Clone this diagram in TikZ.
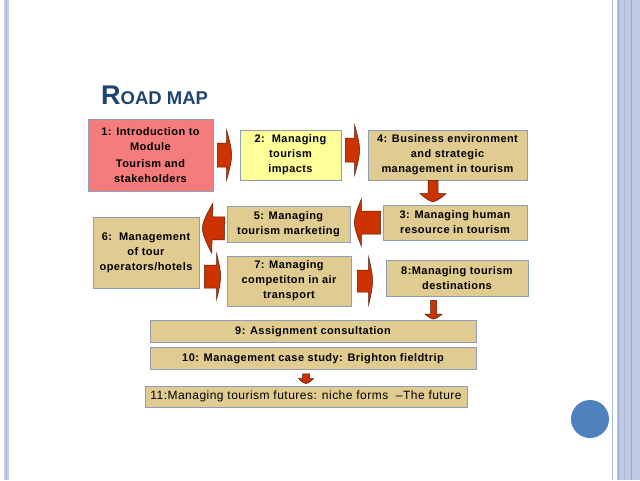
\documentclass[tikz,border=0pt]{standalone}
\usepackage{fontspec}
\setmainfont{Liberation Sans}
\newfontfamily\boxfont{Liberation Sans}[LetterSpace=4]
\usetikzlibrary{calc}
\definecolor{pinkfill}{HTML}{F47C7C}
\definecolor{yellowfill}{HTML}{FFFF99}
\definecolor{tanfill}{HTML}{E0CC90}
\definecolor{boxline}{HTML}{8E9EB8}
\definecolor{arrowred}{HTML}{CC3300}
\definecolor{arrowdark}{HTML}{5A1A00}
\definecolor{titleblue}{HTML}{1F4470}
\definecolor{framelight}{HTML}{C3CDE4}
\definecolor{framemid}{HTML}{A9B7D9}
\definecolor{framedark}{HTML}{93A5CF}
\definecolor{dotblue}{HTML}{4F81BD}
\begin{document}
\begin{tikzpicture}[x=1pt,y=-1pt,
  box/.style={draw=boxline, line width=0.7pt, align=center, inner sep=0pt, text=black,
    font=\boxfont\bfseries\fontsize{11}{15}\selectfont},
  blk/.style n args={3}{fill=arrowred, draw=arrowdark, line width=0.5pt, line join=miter,
    to path={let \p1=(\tikztostart), \p2=(\tikztotarget),
      \n1={atan2(\y2-\y1,\x2-\x1)}, \n2={veclen(\x2-\x1,\y2-\y1)} in
      ([shift={(\p1)},rotate=\n1]0,-#1)
      -- ([shift={(\p1)},rotate=\n1]\n2-#3,-#1)
      -- ([shift={(\p1)},rotate=\n1]\n2-#3,-#2)
      .. controls ([shift={(\p1)},rotate=\n1]\n2-0.3*#3,-0.5*#2) and ([shift={(\p1)},rotate=\n1]\n2,-0.2*#2) .. (\p2)
      .. controls ([shift={(\p1)},rotate=\n1]\n2,0.2*#2) and ([shift={(\p1)},rotate=\n1]\n2-0.3*#3,0.5*#2) .. ([shift={(\p1)},rotate=\n1]\n2-#3,#2)
      -- ([shift={(\p1)},rotate=\n1]\n2-#3,#1)
      -- ([shift={(\p1)},rotate=\n1]0,#1) -- cycle}}
]
\useasboundingbox (0,0) rectangle (640,480);
\fill[white] (0,0) rectangle (640,480);
% slide frame
\fill[framelight] (3.5,0) rectangle (8.5,480);
\draw[framemid, line width=1pt] (6,0) -- (6,480);
\draw[framemid, line width=1.5pt] (612.5,0) -- (612.5,480);
\fill[framelight!80!framemid] (617,0) rectangle (640,480);
\draw[framedark, line width=1.5pt] (618.5,0) -- (618.5,480);
\draw[framemid, line width=1pt] (624,0) -- (624,480);
\draw[framedark, line width=0.8pt] (631,0) -- (631,480);
\node[circle, fill=dotblue, minimum size=38pt, inner sep=0pt] (dot) at (590,419) {};
% title
\node[anchor=base west, inner sep=0pt, text=titleblue, font=\bfseries] (title) at (101,104)
  {{\fontsize{27}{27}\selectfont R}{\fontsize{18.5}{18.5}\selectfont OAD MAP}};
% boxes
\node[box, fill=pinkfill, minimum width=125pt, minimum height=72pt] (n1) at (150.5,155)
  {1: Introduction to\\Module\\[2pt]Tourism and\\stakeholders};
\node[box, fill=yellowfill, minimum width=101pt, minimum height=50pt] (n2) at (290.5,155)
  {2:\ \ Managing\\tourism\\impacts};
\node[box, fill=tanfill, minimum width=159pt, minimum height=50pt] (n4) at (447.5,155)
  {4: Business environment\\and strategic\\management in tourism};
\node[box, fill=tanfill, minimum width=144pt, minimum height=35pt] (n3) at (455,222.5)
  {3: Managing human\\resource in tourism};
\node[box, fill=tanfill, minimum width=123pt, minimum height=36pt] (n5) at (288.5,224)
  {5: Managing\\tourism marketing};
\node[box, fill=tanfill, minimum width=106pt, minimum height=71pt] (n6) at (146,252.5)
  {6:\ \ Management\\of tour\\operators/hotels};
\node[box, fill=tanfill, minimum width=124pt, minimum height=50pt] (n7) at (289,281)
  {7: Managing\\competiton in air\\transport};
\node[box, fill=tanfill, minimum width=142pt, minimum height=36pt] (n8) at (457,278)
  {8:Managing tourism\\destinations};
\node[box, fill=tanfill, minimum width=326pt, minimum height=22pt] (n9) at (313,331.5)
  {9: Assignment consultation};
\node[box, fill=tanfill, minimum width=326pt, minimum height=22pt] (n10) at (313,358.5)
  {10: Management case study: Brighton fieldtrip};
\node[box, fill=tanfill, minimum width=322pt, minimum height=21pt,
  font=\boxfont\mdseries\fontsize{12}{14}\selectfont] (n11) at (306,396.5)
  {11:Managing tourism futures: niche forms\ \ –The future};
% block arrows
\draw[blk={12}{25}{5}] ([xshift=4pt]n1.east) to ([xshift=-8pt]n2.west);
\draw[blk={12}{25}{5}] ([xshift=4pt,yshift=5pt]n2.east) to ([xshift=-8pt,yshift=5pt]n4.west);
\draw[blk={5}{13}{8}] ([xshift=-14.5pt]n4.south) to ([xshift=-22pt,yshift=3pt]n3.north);
\draw[blk={11.5}{23.5}{7}] ([xshift=-2pt]n3.west) to ([xshift=4pt,yshift=1.5pt]n5.east);
\draw[blk={11.5}{25}{10}] ([xshift=-2pt,yshift=-4.5pt]n5.west) to ([xshift=3pt,yshift=24.5pt]n6.east);
\draw[blk={11.5}{23}{4}] ([xshift=5pt,yshift=-24pt]n6.east) to ([xshift=-6pt,yshift=4.5pt]n7.west);
\draw[blk={11}{24}{4}] ([xshift=6pt]n7.east) to ([xshift=-13pt,yshift=-3pt]n8.west);
\draw[blk={3}{8.5}{5}] ([xshift=-23.5pt,yshift=-4pt]n8.south) to ([xshift=120.5pt,yshift=1pt]n9.north);
\draw[blk={3.5}{7.5}{5}] ([xshift=-7pt,yshift=-4pt]n10.south) to ([xshift=0pt,yshift=2pt]n11.north);
\end{tikzpicture}
\end{document}
